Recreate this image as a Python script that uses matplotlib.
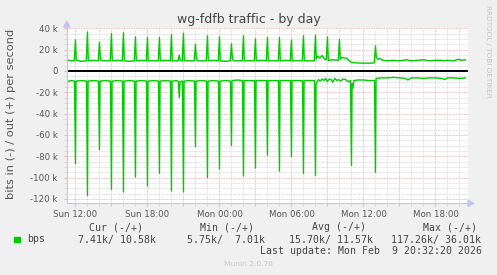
import matplotlib
matplotlib.use("Agg")
import matplotlib.pyplot as plt
from matplotlib.lines import Line2D
from matplotlib.patches import Polygon, Rectangle
from matplotlib.ticker import FixedLocator, FixedFormatter

# hours since Sun 00:00, values in kbit/s
out_hours = [11.27, 11.6, 11.9, 12.0, 12.07, 12.5, 12.9, 13.0, 13.07, 13.5, 13.9, 14.0, 14.08, 14.2,
             14.9, 15.0, 15.07, 15.5, 15.9, 16.0, 16.07, 16.5, 16.9, 17.0, 17.07, 17.5, 17.9, 18.0,
             18.07, 18.5, 18.9, 19.0, 19.07, 19.5, 19.9, 20.0, 20.07, 20.55, 20.65, 20.72, 20.9, 21.0,
             21.07, 21.5, 21.9, 22.0, 22.08, 22.2, 22.9, 23.0, 23.07, 23.5, 23.9, 24.0, 24.07, 24.5,
             24.9, 25.0, 25.08, 25.2, 25.9, 26.0, 26.07, 26.5, 26.9, 27.0, 27.07, 27.5, 27.9, 28.0,
             28.07, 28.5, 28.9, 29.0, 29.07, 29.5, 29.9, 30.0, 30.07, 30.5, 30.9, 31.0, 31.07, 31.5,
             31.9, 32.0, 32.07, 32.2, 32.35, 32.55, 32.75, 32.9, 33.0, 33.07, 33.5, 33.9, 34.0, 34.07,
             34.15, 34.6, 34.8, 35.0, 35.5, 36.0, 36.5, 36.9, 37.0, 37.07, 37.2, 37.4, 37.6, 38.0,
             38.5, 39.0, 39.6, 40.0, 40.5, 41.0, 41.5, 42.0, 42.4, 42.7, 43.0, 43.5, 43.9, 44.2, 44.5]
out_kbps = [10.5, 9.5, 9.5, 29, 10, 9, 9.5, 36.5, 9.5, 10, 9.5, 27, 11, 9.5,
            9.5, 35, 9.5, 10, 9.5, 36, 9.5, 9, 9.5, 32, 9.5, 10, 9.5, 31.5,
            9.5, 9.5, 9.5, 31.5, 9.5, 10, 9.5, 34, 9.5, 9.5, 15, 10, 9.5, 35.5,
            9.5, 9.5, 9.5, 25, 11, 9.5, 9.5, 33, 9.5, 10, 9.5, 32, 9.5, 9,
            9.5, 25.5, 11, 9.5, 9.5, 33, 9.5, 9.5, 9.5, 30, 9.5, 10, 9.5, 31.5,
            9.5, 9.5, 9.5, 31.5, 9.5, 10, 9.5, 29, 9.5, 9.5, 9.5, 33, 9.5, 9.5,
            9.5, 33.5, 11, 14, 12, 14.5, 11, 10.5, 32, 10, 10.5, 10, 29.5, 11,
            12.5, 12, 9.5, 8, 7.5, 7.3, 7.3, 7.5, 23.5, 13, 11, 11.5, 10, 9.5,
            10, 9.5, 10.5, 9.5, 10, 10.5, 9.5, 10, 10, 9.5, 10, 9.5, 11, 10, 10.5]

in_hours = [11.27, 11.35, 11.6, 11.92, 12.0, 12.05, 12.5, 12.92, 13.0, 13.05, 13.5, 13.92, 14.0, 14.05,
            14.5, 14.92, 15.0, 15.05, 15.5, 15.92, 16.0, 16.05, 16.5, 16.92, 17.0, 17.05, 17.5, 17.92,
            18.0, 18.05, 18.5, 18.92, 19.0, 19.05, 19.5, 19.92, 20.0, 20.05, 20.5, 20.58, 20.65, 20.72,
            20.92, 21.0, 21.05, 21.5, 21.92, 22.0, 22.05, 22.5, 22.92, 23.0, 23.05, 23.5, 23.92, 24.0,
            24.05, 24.5, 24.92, 25.0, 25.05, 25.5, 25.92, 26.0, 26.05, 26.5, 26.92, 27.0, 27.05, 27.5,
            27.92, 28.0, 28.05, 28.5, 28.92, 29.0, 29.05, 29.5, 29.92, 30.0, 30.05, 30.5, 30.92, 31.0,
            31.05, 31.5, 31.92, 32.0, 32.05, 32.15, 32.25, 32.4, 32.55, 32.7, 32.85, 33.0, 33.15, 33.3,
            33.45, 33.6, 33.8, 33.92, 34.1, 34.3, 34.5, 34.7, 34.92, 35.0, 35.05, 35.12, 35.2, 35.5,
            36.0, 36.5, 36.92, 37.0, 37.05, 37.5, 38.0, 38.5, 39.0, 39.5, 39.7, 40.0, 40.5, 41.0,
            41.5, 42.0, 42.5, 42.8, 43.0, 43.5, 44.0, 44.5]
in_kbps = [-14, -10, -9, -9.5, -87, -9.5, -9, -9.5, -117, -9.5, -9, -9.5, -74, -9.5,
           -9, -9.5, -111, -9.5, -9, -9.5, -113.5, -9.5, -9, -9.5, -99.5, -9.5, -9, -9.5,
           -108, -9.5, -9, -9.5, -96, -9.5, -9, -9.5, -112.5, -9.5, -9, -10, -25, -10,
           -9.5, -113.5, -9.5, -9, -9.5, -71, -9.5, -9, -9.5, -100, -9.5, -9, -9.5, -92,
           -9.5, -9, -9.5, -70, -9, -8.5, -9, -98.5, -9, -9, -9, -91, -9, -9,
           -9, -79, -9, -9, -9, -94, -9, -9, -9, -80.5, -9, -9, -9, -96,
           -9, -9, -9, -98, -12, -10, -8, -9.5, -7.5, -9, -7, -10, -7.5, -8,
           -10.5, -7, -9, -8, -9.5, -7.5, -8, -10, -9, -88.5, -12, -16, -9, -8.5,
           -8.5, -9, -9, -95, -7, -6.5, -6.5, -6, -6.5, -7, -8.5, -6.5, -6.5, -7,
           -6.5, -6.5, -7, -8, -6.5, -6.5, -7, -6.5]

x_major = [12, 15, 18, 21, 24, 27, 30, 33, 36, 39, 42]
x_labels = ["Sun 12:00", "", "Sun 18:00", "", "Mon 00:00", "", "Mon 06:00", "", "Mon 12:00", "", "Mon 18:00"]
x_minor = list(range(12, 45))
y_major = [-120, -100, -80, -60, -40, -20, 0, 20, 40]
y_labels = ["-120 k", "-100 k", "-80 k", "-60 k", "-40 k", "-20 k", "0", "20 k", "40 k"]
y_minor = list(range(-120, 41, 5))

legend_heads = ["Cur (-/+)", "Min (-/+)", "Avg (-/+)", "Max (-/+)"]
legend_vals = ["7.41k/ 10.58k", "5.75k/  7.01k", "15.70k/ 11.57k", "117.26k/ 36.01k"]

W, H = 497, 275
GREEN = "#00cc00"
AXIS = "#c4c4f4"


def fx(x):
    return x / W


def fy(y):
    return 1 - y / H


fig = plt.figure(figsize=(W / 100, H / 100), dpi=100, facecolor="#f0f0f0")
ax = fig.add_axes([fx(66.7), fy(203.3), 400.8 / W, 175 / H])
ax.set_facecolor("white")
ax.set_xlim(11.27, 44.67)
ax.set_ylim(-124.1, 40)

ax.xaxis.set_major_locator(FixedLocator(x_major))
ax.xaxis.set_major_formatter(FixedFormatter(x_labels))
ax.xaxis.set_minor_locator(FixedLocator(x_minor))
ax.yaxis.set_major_locator(FixedLocator(y_major))
ax.yaxis.set_major_formatter(FixedFormatter(y_labels))
ax.yaxis.set_minor_locator(FixedLocator(y_minor))

ax.grid(which="minor", color="#d4d4d4", lw=0.6, ls=(0, (1, 1)))
ax.grid(which="major", color="#eaa8a8", lw=0.6, ls=(0, (1, 1)))
ax.set_axisbelow(True)
for s in ax.spines.values():
    s.set_visible(False)
ax.tick_params(which="major", length=2, width=0.6, color="#eaa8a8", labelsize=6.2,
               labelcolor="#555555", pad=4.5)
ax.tick_params(which="minor", length=2, width=0.6, color="#d4d4d4")
ax.tick_params(axis="x", pad=3)

ax.axhline(0, color="black", lw=1.4, zorder=2)
ax.plot(out_hours, out_kbps, color=GREEN, lw=1.0, zorder=3)
ax.plot(in_hours, in_kbps, color=GREEN, lw=1.0, zorder=3)

# axis lines with arrows
fig.add_artist(Line2D([fx(66.7), fx(66.7)], [fy(203.3), fy(24)], color=AXIS, lw=0.8))
fig.add_artist(Line2D([fx(66.7), fx(470)], [fy(203.3), fy(203.3)], color=AXIS, lw=0.8))
fig.add_artist(Polygon([[fx(63.7), fy(27)], [fx(69.7), fy(27)], [fx(66.7), fy(21)]],
                       closed=True, color=AXIS, transform=fig.transFigure))
fig.add_artist(Polygon([[fx(468), fy(200.3)], [fx(468), fy(206.3)], [fx(474), fy(203.3)]],
                       closed=True, color=AXIS, transform=fig.transFigure))

fig.text(fx(248.5), fy(22.5), "wg-fdfb traffic - by day", ha="center", va="baseline",
         fontsize=9, color="#444444")
fig.text(fx(11.5), fy(114), "bits in (-) / out (+) per second", rotation=90,
         ha="center", va="center", fontsize=8.2, color="#555555")
fig.text(fx(488.3), fy(5), "RRDTOOL / TOBI OETIKER", rotation=270, ha="center", va="top",
         fontsize=5.2, color="#c4c4c4")
fig.text(fx(248), fy(264), "Munin 2.0.76", ha="center", va="center", fontsize=5.4, color="#c8c8c8")

mono = dict(family="DejaVu Sans Mono", fontsize=7.1, color="#444444", va="center")
for x, t in zip([89, 200, 312, 422.7], legend_heads):
    fig.text(fx(x), fy(227.5), t, **mono)
fig.add_artist(Rectangle((fx(14), fy(242)), 5.5 / W, 5.5 / H, color=GREEN,
                         transform=fig.transFigure))
fig.text(fx(26.7), fy(239.5), "bps", **mono)
for x, t in zip([78.3, 186.7, 289, 391.3], legend_vals):
    fig.text(fx(x), fy(239.5), t, **mono)
fig.text(fx(482), fy(251.5), "Last update: Mon Feb  9 20:32:20 2026", ha="right", **mono)

fig.savefig("out.png", dpi=100, facecolor=fig.get_facecolor())
